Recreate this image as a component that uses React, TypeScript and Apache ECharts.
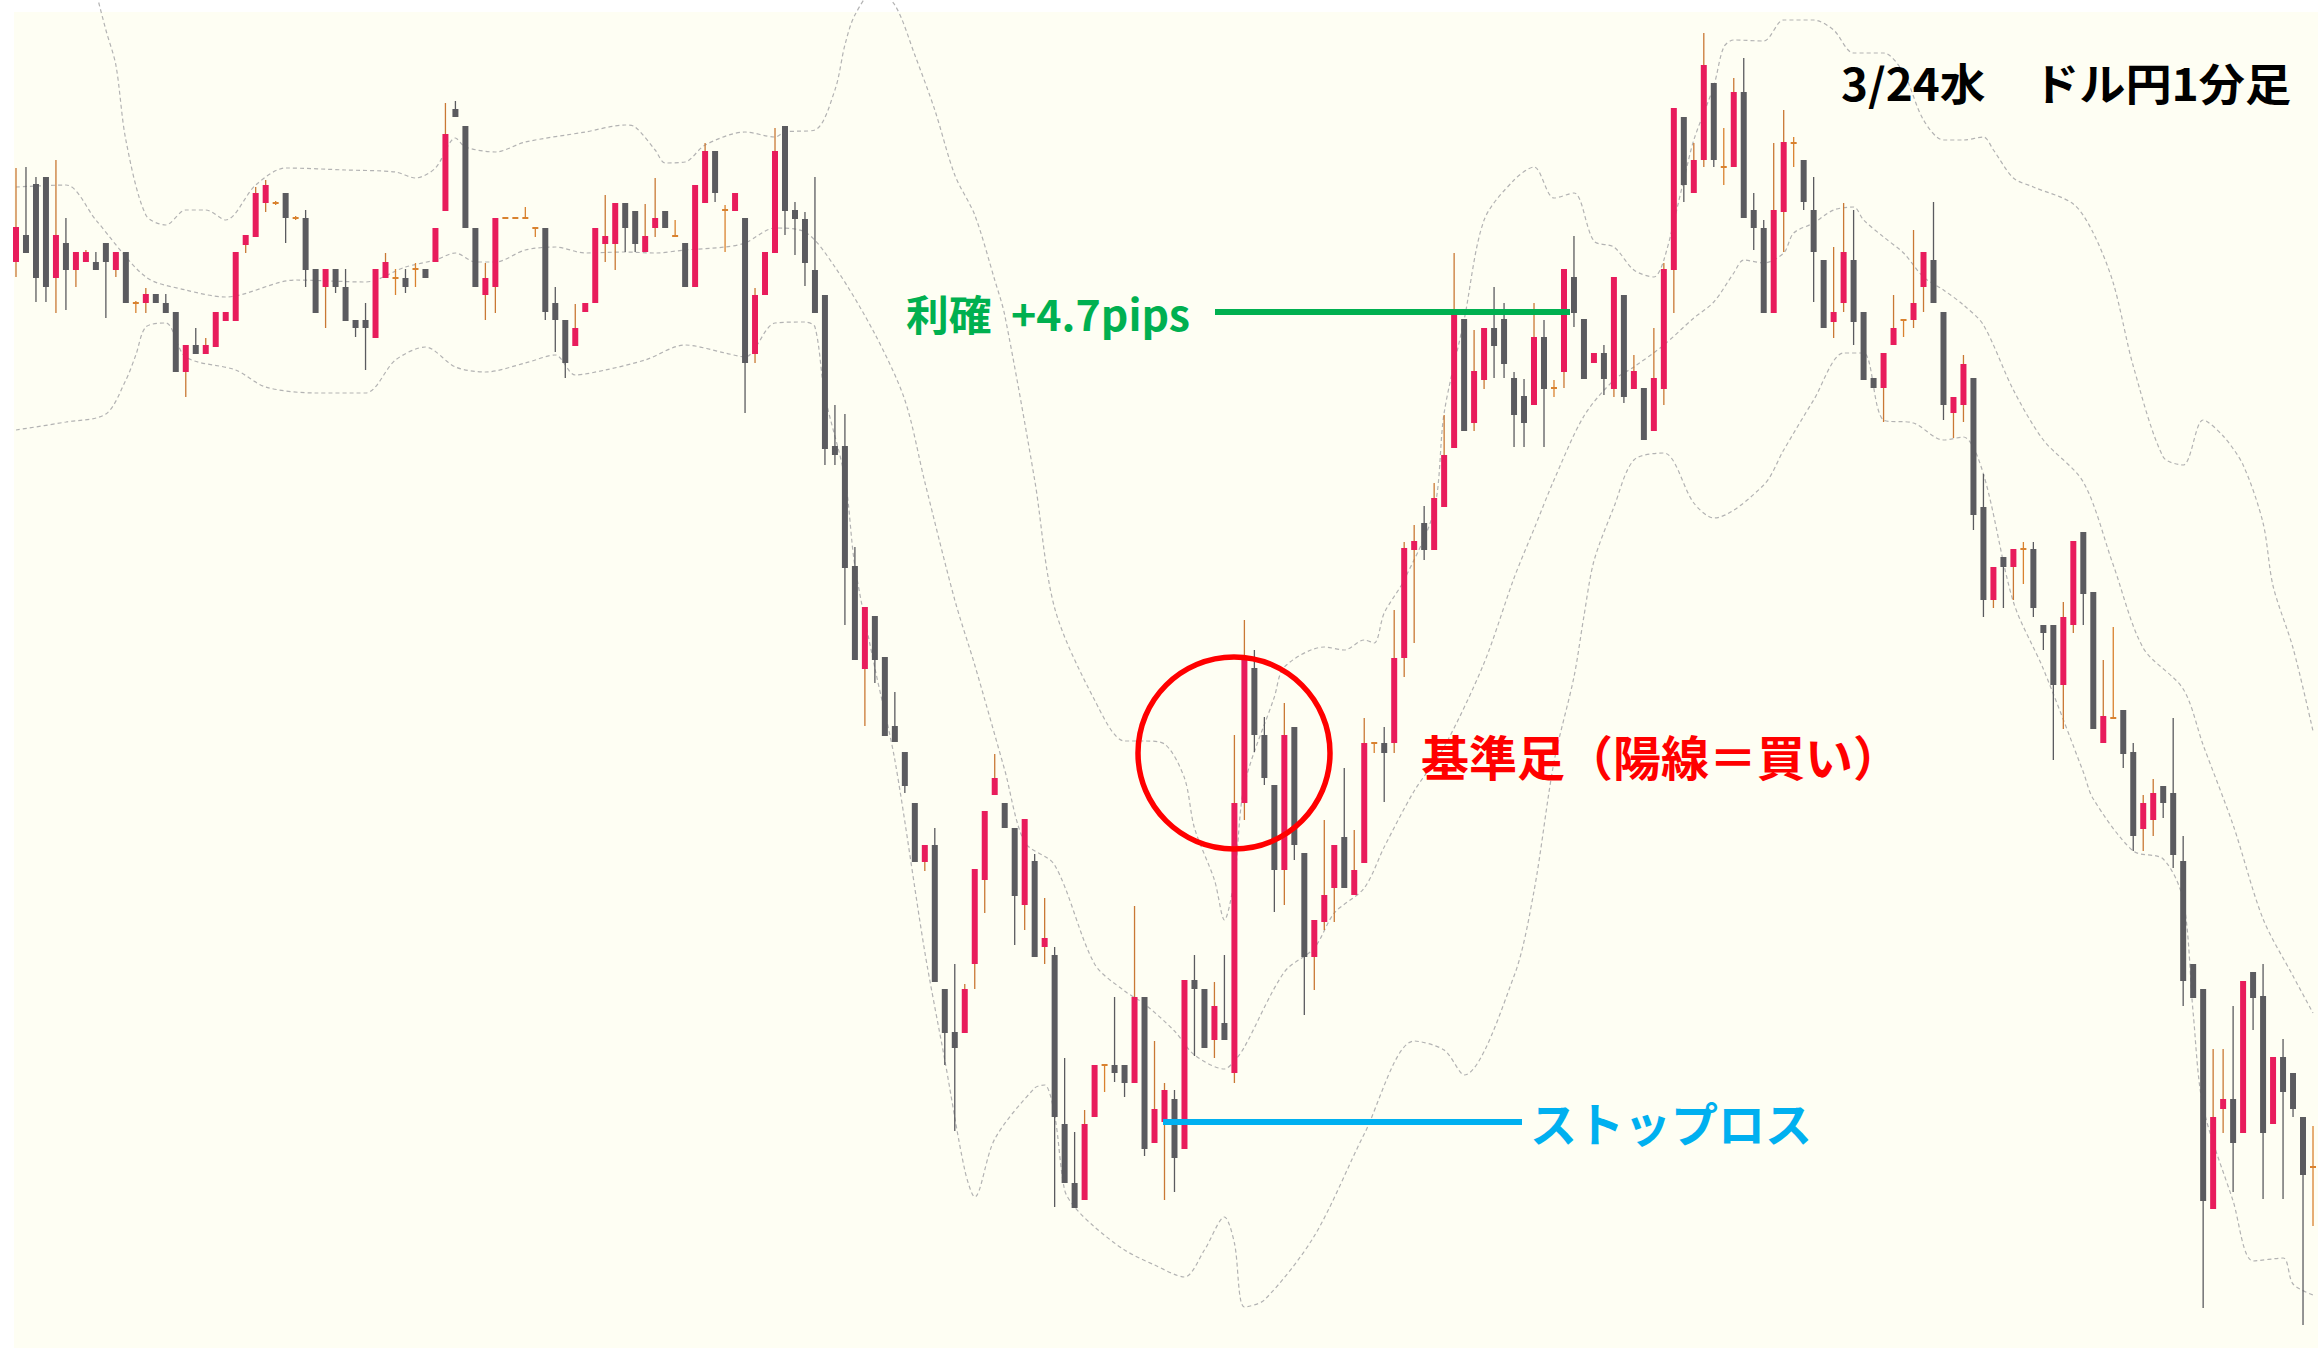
import React, { useEffect, useRef } from "react";
import * as echarts from "echarts";

// USD/JPY 1-minute candles, 3/24 (Wed). Each row: [open, close, low, high]
const candles: number[][] = [
  [108.6138,108.6173,108.6123,108.6232],[108.6165,108.6147,108.6147,108.6233],[108.6216,108.6122,108.6098,108.6223],[108.6223,108.6113,108.6098,108.6223],
  [108.6122,108.6165,108.6087,108.6240],[108.6157,108.6130,108.6090,108.6182],[108.6130,108.6148,108.6113,108.6148],[108.6138,108.6148,108.6138,108.6150],
  [108.6138,108.6130,108.6130,108.6148],[108.6157,108.6138,108.6082,108.6157],[108.6130,108.6148,108.6123,108.6148],[108.6148,108.6097,108.6097,108.6148],
  [108.6097,108.6097,108.6087,108.6099],[108.6097,108.6106,108.6087,108.6112],[108.6106,108.6097,108.6097,108.6106],[108.6097,108.6087,108.6087,108.6106],
  [108.6088,108.6028,108.6028,108.6088],[108.6028,108.6055,108.6003,108.6055],[108.6055,108.6046,108.6046,108.6072],[108.6046,108.6055,108.6046,108.6062],
  [108.6053,108.6088,108.6053,108.6088],[108.6079,108.6088,108.6079,108.6088],[108.6079,108.6148,108.6079,108.6148],[108.6155,108.6165,108.6147,108.6165],
  [108.6163,108.6207,108.6163,108.6213],[108.6197,108.6215,108.6188,108.6220],[108.6197,108.6197,108.6195,108.6199],[108.6207,108.6182,108.6157,108.6207],
  [108.6182,108.6182,108.6180,108.6184],[108.6182,108.6130,108.6113,108.6190],[108.6131,108.6087,108.6087,108.6131],[108.6113,108.6131,108.6072,108.6131],
  [108.6131,108.6113,108.6107,108.6131],[108.6113,108.6079,108.6079,108.6131],[108.6080,108.6072,108.6063,108.6080],[108.6080,108.6072,108.6030,108.6097],
  [108.6062,108.6131,108.6062,108.6131],[108.6122,108.6138,108.6122,108.6147],[108.6122,108.6122,108.6105,108.6131],[108.6122,108.6113,108.6107,108.6131],
  [108.6131,108.6131,108.6113,108.6137],[108.6131,108.6122,108.6122,108.6131],[108.6138,108.6172,108.6138,108.6172],[108.6189,108.6266,108.6189,108.6297],
  [108.6291,108.6283,108.6283,108.6299],[108.6274,108.6172,108.6172,108.6274],[108.6172,108.6113,108.6113,108.6172],[108.6105,108.6122,108.6080,108.6137],
  [108.6113,108.6182,108.6087,108.6182],[108.6182,108.6182,108.6181,108.6183],[108.6182,108.6182,108.6181,108.6183],[108.6182,108.6182,108.6182,108.6193],
  [108.6172,108.6172,108.6163,108.6172],[108.6172,108.6088,108.6080,108.6172],[108.6097,108.6080,108.6048,108.6113],[108.6080,108.6037,108.6022,108.6080],
  [108.6054,108.6072,108.6054,108.6096],[108.6088,108.6097,108.6088,108.6097],[108.6097,108.6172,108.6097,108.6172],[108.6156,108.6164,108.6138,108.6205],
  [108.6156,108.6197,108.6130,108.6197],[108.6197,108.6172,108.6148,108.6197],[108.6189,108.6156,108.6148,108.6189],[108.6148,108.6164,108.6148,108.6196],
  [108.6172,108.6182,108.6163,108.6222],[108.6189,108.6172,108.6172,108.6189],[108.6164,108.6164,108.6164,108.6180],[108.6157,108.6113,108.6113,108.6157],
  [108.6113,108.6215,108.6113,108.6215],[108.6197,108.6249,108.6197,108.6257],[108.6249,108.6207,108.6198,108.6249],[108.6190,108.6190,108.6148,108.6195],
  [108.6189,108.6207,108.6189,108.6207],[108.6182,108.6037,108.5987,108.6182],[108.6046,108.6105,108.6037,108.6112],[108.6105,108.6148,108.6105,108.6148],
  [108.6147,108.6249,108.6147,108.6272],[108.6274,108.6189,108.6165,108.6274],[108.6190,108.6181,108.6145,108.6198],[108.6181,108.6137,108.6114,108.6188],
  [108.6130,108.6087,108.6087,108.6223],[108.6105,108.5951,108.5935,108.6105],[108.5954,108.5945,108.5935,108.5995],[108.5954,108.5832,108.5775,108.5986],
  [108.5834,108.5740,108.5740,108.5853],[108.5731,108.5793,108.5674,108.5793],[108.5784,108.5740,108.5717,108.5784],[108.5743,108.5664,108.5664,108.5743],
  [108.5674,108.5658,108.5658,108.5708],[108.5648,108.5614,108.5607,108.5648],[108.5597,108.5538,108.5538,108.5597],[108.5538,108.5555,108.5529,108.5555],
  [108.5555,108.5418,108.5418,108.5572],[108.5411,108.5367,108.5335,108.5411],[108.5368,108.5352,108.5269,108.5436],[108.5367,108.5411,108.5367,108.5416],
  [108.5436,108.5531,108.5411,108.5531],[108.5520,108.5589,108.5487,108.5589],[108.5605,108.5622,108.5605,108.5646],[108.5597,108.5572,108.5572,108.5597],
  [108.5572,108.5504,108.5455,108.5572],[108.5495,108.5581,108.5470,108.5581],[108.5539,108.5443,108.5443,108.5546],[108.5453,108.5462,108.5436,108.5502],
  [108.5445,108.5283,108.5193,108.5453],[108.5276,108.5217,108.5217,108.5342],[108.5217,108.5192,108.5192,108.5268],[108.5200,108.5276,108.5200,108.5290],
  [108.5283,108.5335,108.5283,108.5335],[108.5335,108.5335,108.5308,108.5335],[108.5335,108.5327,108.5318,108.5403],[108.5335,108.5317,108.5303,108.5335],
  [108.5317,108.5403,108.5317,108.5494],[108.5403,108.5251,108.5244,108.5403],[108.5257,108.5291,108.5257,108.5359],[108.5278,108.5310,108.5200,108.5317],
  [108.5301,108.5242,108.5208,108.5310],[108.5251,108.5420,108.5251,108.5420],[108.5420,108.5411,108.5344,108.5445],[108.5411,108.5352,108.5352,108.5411],
  [108.5360,108.5394,108.5342,108.5418],[108.5377,108.5360,108.5360,108.5445],[108.5327,108.5597,108.5317,108.5665],[108.5597,108.5740,108.5580,108.5780],
  [108.5732,108.5665,108.5648,108.5750],[108.5665,108.5622,108.5615,108.5683],[108.5615,108.5530,108.5488,108.5615],[108.5530,108.5665,108.5495,108.5697],
  [108.5673,108.5555,108.5540,108.5673],[108.5547,108.5443,108.5385,108.5547],[108.5443,108.5480,108.5410,108.5480],[108.5478,108.5505,108.5470,108.5580],
  [108.5512,108.5555,108.5478,108.5555],[108.5563,108.5512,108.5512,108.5632],[108.5505,108.5530,108.5505,108.5570],[108.5537,108.5657,108.5537,108.5682],
  [108.5657,108.5657,108.5647,108.5657],[108.5657,108.5647,108.5598,108.5673],[108.5657,108.5742,108.5647,108.5790],[108.5742,108.5852,108.5723,108.5858],
  [108.5850,108.5859,108.5757,108.5875],[108.5877,108.5850,108.5840,108.5894],[108.5850,108.5902,108.5850,108.5917],[108.5893,108.5945,108.5893,108.5985],
  [108.5952,108.6085,108.5952,108.6147],[108.6081,108.5969,108.5969,108.6081],[108.5977,108.6029,108.5969,108.6070],[108.6020,108.6072,108.6011,108.6072],
  [108.6072,108.6054,108.6022,108.6113],[108.6081,108.6036,108.6022,108.6097],[108.6022,108.5985,108.5953,108.6028],[108.6004,108.5977,108.5953,108.6021],
  [108.5995,108.6063,108.5995,108.6097],[108.6063,108.6011,108.5953,108.6080],[108.6012,108.6012,108.6003,108.6020],[108.6028,108.6131,108.6012,108.6131],
  [108.6123,108.6087,108.6073,108.6164],[108.6081,108.6021,108.6021,108.6081],[108.6037,108.6047,108.6037,108.6047],[108.6047,108.6021,108.6005,108.6055],
  [108.6011,108.6123,108.6003,108.6123],[108.6105,108.6003,108.5997,108.6105],[108.6011,108.6029,108.6011,108.6045],[108.6012,108.5960,108.5960,108.6012],
  [108.5969,108.6022,108.5969,108.6072],[108.6011,108.6131,108.5995,108.6137],[108.6130,108.6292,108.6087,108.6292],[108.6283,108.6215,108.6198,108.6283],
  [108.6207,108.6240,108.6207,108.6257],[108.6240,108.6335,108.6233,108.6367],[108.6317,108.6240,108.6233,108.6317],[108.6233,108.6233,108.6215,108.6272],
  [108.6233,108.6308,108.6233,108.6322],[108.6308,108.6182,108.6182,108.6342],[108.6190,108.6172,108.6150,108.6207],[108.6172,108.6087,108.6087,108.6180],
  [108.6087,108.6190,108.6087,108.6257],[108.6188,108.6258,108.6148,108.6290],[108.6257,108.6257,108.6233,108.6263],[108.6240,108.6198,108.6190,108.6240],
  [108.6190,108.6148,108.6098,108.6223],[108.6140,108.6072,108.6072,108.6140],[108.6078,108.6088,108.6062,108.6153],[108.6097,108.6148,108.6088,108.6197],
  [108.6140,108.6078,108.6055,108.6190],[108.6088,108.6020,108.6020,108.6088],[108.6022,108.6012,108.6012,108.6022],[108.6012,108.6047,108.5978,108.6047],
  [108.6055,108.6072,108.6055,108.6105],[108.6080,108.6080,108.6063,108.6080],[108.6080,108.6097,108.6072,108.6170],[108.6113,108.6148,108.6088,108.6148],
  [108.6140,108.6097,108.6097,108.6198],[108.6088,108.5995,108.5980,108.6088],[108.5987,108.6003,108.5962,108.6003],[108.5995,108.6036,108.5978,108.6045],
  [108.6022,108.5885,108.5870,108.6022],[108.5893,108.5800,108.5783,108.5926],[108.5800,108.5833,108.5792,108.5833],[108.5843,108.5833,108.5792,108.5843],
  [108.5833,108.5851,108.5800,108.5851],[108.5851,108.5851,108.5816,108.5858],[108.5851,108.5792,108.5783,108.5858],[108.5775,108.5767,108.5750,108.5775],
  [108.5775,108.5715,108.5640,108.5775],[108.5715,108.5783,108.5671,108.5798],[108.5775,108.5859,108.5767,108.5859],[108.5868,108.5806,108.5775,108.5868],
  [108.5808,108.5671,108.5671,108.5808],[108.5657,108.5684,108.5657,108.5740],[108.5682,108.5682,108.5682,108.5773],[108.5690,108.5646,108.5632,108.5690],
  [108.5648,108.5564,108.5549,108.5657],[108.5571,108.5597,108.5549,108.5605],[108.5580,108.5607,108.5564,108.5621],[108.5614,108.5597,108.5582,108.5614],
  [108.5607,108.5545,108.5532,108.5682],[108.5539,108.5419,108.5394,108.5564],[108.5436,108.5402,108.5402,108.5436],[108.5411,108.5199,108.5092,108.5411],
  [108.5191,108.5283,108.5191,108.5351],[108.5291,108.5301,108.5267,108.5351],[108.5301,108.5257,108.5208,108.5394],[108.5267,108.5419,108.5267,108.5419],
  [108.5428,108.5402,108.5370,108.5428],[108.5404,108.5267,108.5201,108.5436],[108.5276,108.5343,108.5276,108.5343],[108.5343,108.5308,108.5201,108.5361],
  [108.5327,108.5291,108.5283,108.5327],[108.5283,108.5225,108.5075,108.5283],[108.5233,108.5233,108.5174,108.5274],
];

// Bollinger band readings: [candle index, price]
const bandUpper: number[][] = [
  [0,108.665],[5,108.652],[9,108.637],[10,108.6335],[11,108.626],[13,108.6185],[15,108.6175],[17,108.619],[19,108.619],[21,108.618],
  [24,108.6215],[27,108.6232],[33,108.623],[38,108.6228],[40,108.6222],[42,108.6232],[44,108.6262],[45,108.6253],[48,108.6248],[51,108.6258],
  [57,108.6268],[61,108.6275],[62,108.6273],[64,108.625],[65,108.6237],[67,108.6238],[69,108.6255],[73,108.6268],[76,108.6263],[77,108.6268],
  [80,108.627],[82,108.631],[83,108.6355],[84,108.6385],[86,108.641],[88,108.6395],[90,108.6345],[92,108.629],[94,108.6225],[96,108.6185],
  [98,108.612],[99,108.6085],[102,108.592],[104,108.5792],[108,108.57],[111,108.5659],[113,108.5659],[115,108.5656],[117,108.5622],[118,108.5572],
  [120,108.552],[121,108.548],[122,108.5521],[123,108.5615],[126,108.5703],[127,108.5733],[131,108.5753],[133,108.575],[135,108.576],[136,108.5757],
  [137,108.5787],[139,108.582],[142,108.589],[143,108.5987],[145,108.608],[147,108.618],[150,108.622],[152,108.6233],[154,108.6202],[156,108.6207],
  [158,108.6159],[160,108.6153],[162,108.613],[164,108.6123],[165,108.614],[167,108.622],[168,108.626],[170,108.6314],[171,108.6353],[172,108.636],
  [175,108.6359],[177,108.638],[180,108.638],[182,108.637],[184,108.6347],[187,108.6347],[189,108.6327],[191,108.628],[193,108.626],[195,108.626],
  [197,108.6263],[198,108.625],[200,108.6222],[202,108.6213],[206,108.6196],[208,108.6167],[210,108.6117],[212,108.6034],[215,108.5943],[217,108.5935],
  [219,108.598],[221,108.5964],[223,108.5935],[225,108.5877],[226,108.5814],[228,108.5752],[230,108.5669],
];
const bandMiddle: number[][] = [
  [0,108.6213],[5,108.6215],[8,108.618],[13,108.6123],[17,108.611],[21,108.6103],[28,108.612],[35,108.6118],[39,108.6133],[42,108.614],
  [44,108.6147],[46,108.6138],[48,108.6138],[51,108.615],[54,108.6153],[57,108.6147],[61,108.6148],[64,108.6147],[67,108.615],[71,108.6153],
  [73,108.6157],[76,108.6172],[79,108.6168],[82,108.6133],[86,108.6066],[89,108.6],[91,108.5918],[94,108.58],[96,108.5735],[99,108.563],
  [101,108.5558],[104,108.5535],[108,108.5436],[111,108.5409],[113,108.5396],[116,108.5369],[118,108.5345],[121,108.5331],[122,108.5339],[123,108.5353],
  [127,108.5428],[130,108.5452],[132,108.5487],[135,108.5512],[137,108.5553],[140,108.5609],[143,108.5653],[147,108.5737],[150,108.5822],[152,108.5871],
  [154,108.592],[157,108.5984],[160,108.602],[162,108.6033],[165,108.6055],[168,108.6082],[170,108.6098],[172,108.6127],[173,108.614],[175,108.6137],
  [177,108.6147],[178,108.6167],[180,108.6177],[182,108.619],[184,108.6193],[185,108.618],[187,108.6163],[189,108.6147],[191,108.6123],[193,108.611],
  [195,108.6095],[197,108.6075],[200,108.601],[203,108.596],[207,108.5918],[210,108.5835],[213,108.5752],[217,108.5711],[219,108.5655],[222,108.5575],
  [225,108.5481],[228,108.5424],[230,108.5387],
];
const bandLower: number[][] = [
  [0,108.597],[5,108.5978],[9,108.5986],[11,108.602],[12,108.6045],[13,108.6073],[15,108.6077],[17,108.6043],[22,108.603],[25,108.6013],
  [30,108.6007],[35,108.6007],[38,108.604],[41,108.6053],[44,108.6033],[47,108.6028],[51,108.6037],[54,108.6045],[56,108.6025],[59,108.603],
  [63,108.604],[67,108.6055],[71,108.6047],[73,108.6043],[76,108.6077],[79,108.6078],[80,108.6073],[81,108.6004],[83,108.5922],[84,108.5834],
  [86,108.5732],[88,108.564],[91,108.5448],[93,108.534],[95,108.523],[96,108.5203],[98,108.5261],[102,108.5312],[103,108.5315],[104,108.5285],
  [105,108.521],[106,108.5193],[108,108.5173],[111,108.515],[114,108.5135],[117,108.5123],[119,108.515],[121,108.5183],[122,108.5157],[123,108.5093],
  [125,108.51],[130,108.5164],[135,108.5266],[140,108.5359],[143,108.535],[145,108.5325],[150,108.5424],[152,108.5509],[154,108.5638],[156,108.5723],
  [157,108.5784],[158,108.5839],[160,108.5893],[162,108.594],[165,108.5947],[168,108.5897],[170,108.5882],[175,108.5915],[177,108.595],[180,108.6],
  [183,108.6047],[185,108.6047],[187,108.598],[190,108.5977],[193,108.596],[195,108.5963],[197,108.5926],[200,108.5798],[203,108.5731],[207,108.5628],
  [208,108.5601],[212,108.5549],[215,108.5541],[217,108.55],[218,108.5387],[219,108.5293],[222,108.5199],[224,108.5139],[227,108.5142],[228,108.5116],
  [230,108.5105],
];

const categories: string[] = candles.map((_, i) => {
  const t = 13 * 60 + i;
  return `${String(Math.floor(t / 60)).padStart(2, "0")}:${String(t % 60).padStart(2, "0")}`;
});

const W = 2318;
const H = 1355;
const UP = "#e81c5c";
const DOWN = "#5b5b5f";
const UP_WICK = "#c97834";
const DOJI = "#d9822f";
const BG = "#fefef3";
const JP = '"Noto Sans CJK JP", "Noto Sans", sans-serif';

export default function App() {
  const ref = useRef<HTMLDivElement>(null);
  useEffect(() => {
    document.body.style.margin = "0";
    const chart = echarts.init(ref.current as HTMLDivElement, null, { renderer: "svg", width: W, height: H });
    const data = candles.map((d, i) => [i, d[0], d[1], d[2], d[3]]);
    const renderItem = (params: any, api: any) => {
      const i = api.value(0);
      const o = api.value(1);
      const c = api.value(2);
      const l = api.value(3);
      const h = api.value(4);
      const pO = api.coord([i, o]);
      const x = pO[0];
      const yO = pO[1];
      const yC = api.coord([i, c])[1];
      const yL = api.coord([i, l])[1];
      const yH = api.coord([i, h])[1];
      const bw = api.size([1, 0])[0] * 0.6;
      const flat = o === c;
      const up = c > o;
      const body = flat ? DOJI : up ? UP : DOWN;
      const wick = flat || up ? UP_WICK : DOWN;
      const top = Math.min(yO, yC);
      const ht = Math.max(Math.abs(yO - yC), 2);
      return {
        type: "group",
        children: [
          { type: "line", shape: { x1: x, y1: yH, x2: x, y2: yL }, style: { stroke: flat ? DOJI : wick, lineWidth: 1.3 } },
          { type: "rect", shape: { x: x - bw / 2, y: flat ? top - 1 : top, width: bw, height: ht }, style: { fill: body } },
        ],
      };
    };
    const bandSeries = (d: number[][]) => ({
      type: "line",
      data: d,
      symbol: "none",
      smooth: 0.3,
      silent: true,
      z: 1,
      lineStyle: { color: "#b3b3b3", width: 1.2, type: [4, 3] },
    });
    const txt = (x: number, y: number, text: string, fill: string, size: number, sx: number) => ({
      type: "text",
      z: 60,
      x,
      y,
      scaleX: sx,
      style: { text, fill, font: `bold ${size}px ${JP}`, textVerticalAlign: "middle", verticalAlign: "middle" },
    });
    chart.setOption({
      animation: false,
      backgroundColor: "#ffffff",
      grid: { left: 11, top: 0, width: 2310, height: 1355, show: false },
      xAxis: { type: "category", data: categories, boundaryGap: true, show: false },
      yAxis: { type: "value", min: 108.5045, max: 108.64, show: false },
      graphic: [
        { type: "rect", z: -10, shape: { x: 14, y: 12, width: W - 14, height: H - 19 }, style: { fill: BG } },
        { type: "ellipse", z: 50, shape: { cx: 1234, cy: 753, rx: 96, ry: 96 }, style: { fill: "none", stroke: "#ff0000", lineWidth: 5.5 } },
        { type: "line", z: 50, shape: { x1: 1215, y1: 312, x2: 1570, y2: 312 }, style: { stroke: "#00b050", lineWidth: 6 } },
        { type: "line", z: 50, shape: { x1: 1163, y1: 1122, x2: 1522, y2: 1122 }, style: { stroke: "#00b0f0", lineWidth: 6 } },
        txt(1841, 82, "3/24水", "#000000", 44, 1.04),
        txt(2033, 82, "ドル円1分足", "#000000", 44, 1.05),
        txt(906, 313, "利確  +4.7pips", "#00b050", 42, 1.02),
        txt(1421, 755, "基準足（陽線＝買い）", "#ff0000", 48, 1.0),
        txt(1530, 1121, "ストップロス", "#00b0f0", 47, 1.0),
      ],
      series: [
        bandSeries(bandUpper),
        bandSeries(bandMiddle),
        bandSeries(bandLower),
        { type: "custom", renderItem, data, encode: { x: 0, y: [1, 2, 3, 4] }, z: 5, clip: true },
      ],
    });
    return () => chart.dispose();
  }, []);
  return <div ref={ref} style={{ width: W, height: H }} />;
}
